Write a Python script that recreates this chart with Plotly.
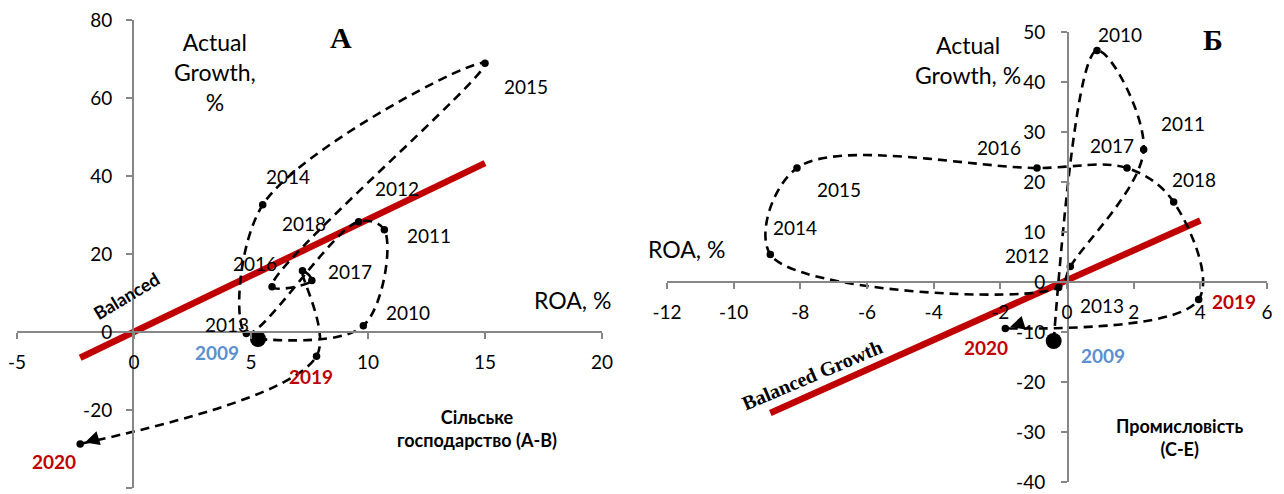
import plotly.graph_objects as go

# ── data: panel A (agriculture) ──────────────────────────────────────────────
years = ["2009", "2010", "2011", "2012", "2013", "2014", "2015",
         "2016", "2017", "2018", "2019", "2020"]
roa_a = [5.3, 9.8, 10.7, 9.6, 4.8, 5.5, 15.0, 5.9, 7.6, 7.2, 7.8, -2.3]
growth_a = [-1.8, 1.6, 26.2, 28.3, -0.4, 32.6, 68.9, 11.6, 13.2, 15.7, -6.2, -28.7]
balanced_x_a = [-2.3, 15.0]
balanced_y_a = [-6.6, 43.3]
xticks_a = [-5, 0, 5, 10, 15, 20]
yticks_a = [-40, -20, 0, 20, 40, 60, 80]

# ── data: panel Б (industry) ─────────────────────────────────────────────────
roa_b = [-0.4, 0.9, 2.3, 0.1, -0.25, -8.9, -8.1, -0.9, 1.8, 3.2, 3.95, -1.85]
growth_b = [-11.8, 46.3, 26.5, 3.1, -1.1, 5.5, 22.8, 22.8, 22.8, 16.0, -3.5, -9.3]
balanced_x_b = [-8.9, 4.0]
balanced_y_b = [-26.2, 12.3]
xticks_b = [-12, -10, -8, -6, -4, -2, 0, 2, 4, 6]
yticks_b = [-40, -30, -20, -10, 0, 10, 20, 30, 40, 50]

W, H = 1284, 494
FONT = "Lato"
RED = "#C00000"
BLUE = "#5B8FD0"
AXIS = "#868686"

# label offsets (px) relative to each point: (xshift, yshift)
offs_a = [(-41, -13), (45, 13), (45, -6), (38, 33), (-19, 9), (25, 28),
          (41, -23), (-17, 23), (38, 9), (2, 47), (-6, -20), (-26, -18)]
offs_b = [(49, -14), (23, 16), (39, 26), (-43, 11), (43, -18), (25, 27),
          (42, -22), (-38, 20), (-15, 22), (20, 22), (35, -2), (-19, -19)]


def px(x):
    return x / W


def py(y):
    return 1 - y / H


fig = go.Figure()
annotations = []


def add_panel(xs, ys, bx, by, offs, xref, yref):
    fig.add_trace(go.Scatter(x=bx, y=by, mode="lines", xaxis=xref, yaxis=yref,
                             line=dict(color=RED, width=6.5), hoverinfo="skip"))
    fig.add_trace(go.Scatter(x=xs, y=ys, mode="lines", xaxis=xref, yaxis=yref,
                             line=dict(color="black", width=2.6, dash="9px,6px",
                                       shape="spline", smoothing=1.0),
                             hoverinfo="skip"))
    fig.add_trace(go.Scatter(x=xs[1:], y=ys[1:], mode="markers", xaxis=xref, yaxis=yref,
                             marker=dict(color="black", size=7.5), hoverinfo="skip"))
    fig.add_trace(go.Scatter(x=xs[:1], y=ys[:1], mode="markers", xaxis=xref, yaxis=yref,
                             marker=dict(color="black", size=16), hoverinfo="skip"))
    for i, yr in enumerate(years):
        dx, dy = offs[i]
        if yr == "2009":
            font = dict(family=FONT, size=19, color=BLUE)
            text = f"<b>{yr}</b>"
        elif yr in ("2019", "2020"):
            font = dict(family=FONT, size=19, color=RED)
            text = f"<b>{yr}</b>"
        else:
            font = dict(family=FONT, size=19, color="black")
            text = yr
        annotations.append(dict(x=xs[i], y=ys[i], xref=xref, yref=yref, text=text,
                                showarrow=False, xshift=dx, yshift=dy, font=font,
                                xanchor="center", yanchor="middle"))
    # arrow head into 2020
    annotations.append(dict(x=xs[-1], y=ys[-1], xref=xref, yref=yref, text="",
                            showarrow=True, arrowhead=2, arrowsize=1.3, arrowwidth=2.2,
                            arrowcolor="black", ax=16, ay=-5, standoff=5))


add_panel(roa_a, growth_a, balanced_x_a, balanced_y_a, offs_a, "x", "y")
add_panel(roa_b, growth_b, balanced_x_b, balanced_y_b, offs_b, "x2", "y2")

txt = dict(showarrow=False, xref="paper", yref="paper", xanchor="center", yanchor="middle")
annotations += [
    dict(x=px(215), y=py(72), text="Actual<br>Growth,<br>%",
         font=dict(family=FONT, size=23, color="black"), **txt),
    dict(x=px(341), y=py(38), text="<b>А</b>",
         font=dict(family="Liberation Serif", size=30, color="black"), **txt),
    dict(x=px(572), y=py(300), text="ROA, %",
         font=dict(family=FONT, size=23, color="black"), **txt),
    dict(x=px(126), y=py(296), text="<b>Balanced</b>", textangle=-31,
         font=dict(family=FONT, size=18, color="black"), **txt),
    dict(x=px(477), y=py(428), text="<b>Сільське<br>господарство (А-В)</b>",
         font=dict(family=FONT, size=18, color="black"), **txt),
    dict(x=px(968), y=py(60), text="Actual<br>Growth, %",
         font=dict(family=FONT, size=23, color="black"), **txt),
    dict(x=px(1213), y=py(40), text="<b>Б</b>",
         font=dict(family="Liberation Serif", size=30, color="black"), **txt),
    dict(x=px(686), y=py(249), text="ROA, %",
         font=dict(family=FONT, size=23, color="black"), **txt),
    dict(x=px(812), y=py(375), text="<b>Balanced Growth</b>", textangle=-23,
         font=dict(family="Liberation Serif", size=20, color="black"), **txt),
    dict(x=px(1180), y=py(437), text="<b>Промисловість<br>(С-Е)</b>",
         font=dict(family=FONT, size=18, color="black"), **txt),
]

axis_style = dict(showgrid=False, zeroline=False, showline=True, linecolor=AXIS,
                  linewidth=2, ticks="outside", ticklen=6, tickwidth=2, tickcolor=AXIS,
                  tickfont=dict(family=FONT, size=19, color="black"),
                  anchor="free", automargin=False, fixedrange=True)

fig.update_layout(
    width=W, height=H,
    margin=dict(l=0, r=0, t=0, b=0, autoexpand=False),
    paper_bgcolor="white", plot_bgcolor="rgba(0,0,0,0)",
    showlegend=False,
    annotations=annotations,
    xaxis=dict(domain=[px(17), px(602)], range=[-5, 20],
               tickvals=xticks_a, ticktext=[str(v) for v in xticks_a],
               position=py(332), ticklabelstandoff=7, **axis_style),
    yaxis=dict(domain=[py(488), py(20)], range=[-40, 80],
               tickvals=yticks_a, ticktext=[str(v) for v in yticks_a],
               position=px(133), ticklabelstandoff=10, **axis_style),
    xaxis2=dict(domain=[px(667), px(1267)], range=[-12, 6],
                tickvals=xticks_b, ticktext=[str(v) for v in xticks_b],
                position=py(282), ticklabelstandoff=7, **axis_style),
    yaxis2=dict(domain=[py(482), py(32)], range=[-40, 50],
                tickvals=yticks_b, ticktext=[str(v) for v in yticks_b],
                position=px(1068), ticklabelstandoff=12, **axis_style),
)

fig.write_html("out.html", config={"displayModeBar": False},
               post_script="document.body.style.margin='0';")
